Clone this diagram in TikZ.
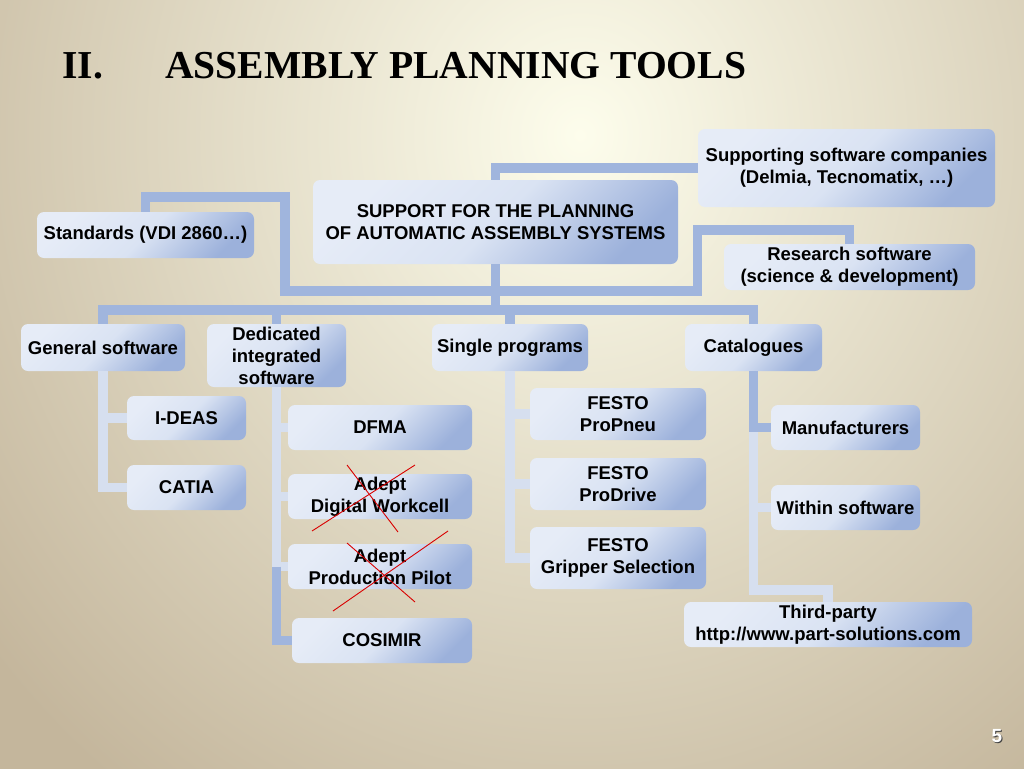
\documentclass[tikz,border=0pt]{standalone}
\usepackage{fontspec}
\setmainfont{Liberation Sans}
\newfontfamily\titlefont{Liberation Serif}
\usetikzlibrary{calc}

\definecolor{bgin}{RGB}{253,253,236}
\definecolor{bgout}{RGB}{196,182,156}
\definecolor{boxhi}{RGB}{230,236,247}
\definecolor{boxmid}{RGB}{218,227,243}
\definecolor{boxlo}{RGB}{156,177,219}
\definecolor{linkc}{RGB}{160,181,221}
\definecolor{sublinkc}{RGB}{214,223,239}

\begin{document}
\begin{tikzpicture}[x=1pt,y=-1pt,
    box/.style={rounded corners=7pt, top color=boxhi, bottom color=boxlo,
        middle color=boxmid, shading angle=45, align=center, inner sep=1pt,
        font=\fontsize{18.5}{22}\selectfont\bfseries},
    link/.style={line width=9.5pt, draw=linkc},
    sublink/.style={line width=9.5pt, draw=sublinkc},
    cross/.style={draw=red!85!black, line width=0.9pt}]
    \useasboundingbox (0,0) rectangle (1024,768);
    \fill[bgout] (-4,-4) rectangle (1028,772);
    \begin{scope}
        \clip (-4,-4) rectangle (1028,772);
        \shade[inner color=bgin, outer color=bgout] (580,135) ellipse (760 and 820);
    \end{scope}

    \node[anchor=base west, inner sep=0, font=\titlefont\fontsize{39.6}{40}\selectfont\bfseries] (sec) at (62,78) {II.};
    \node[anchor=base west, inner sep=0, font=\titlefont\fontsize{39.6}{40}\selectfont\bfseries] (title) at (165,78) {ASSEMBLY PLANNING TOOLS};

    \node[box, minimum width=365, minimum height=84] (main) at (495.5,222) {SUPPORT FOR THE PLANNING\\OF AUTOMATIC ASSEMBLY SYSTEMS};
    \node[box, minimum width=297, minimum height=78] (supp) at (846.5,168) {Supporting software companies\\(Delmia, Tecnomatix, \dots)};
    \node[box, minimum width=217, minimum height=46] (std) at (145.5,235) {Standards (VDI 2860\dots)};
    \node[box, minimum width=251, minimum height=46] (res) at (849.5,267) {Research software\\(science \& development)};

    \node[box, minimum width=164, minimum height=47] (gen) at (103,347.5) {General software};
    \node[box, minimum width=139, minimum height=63] (ded) at (276.5,355.5) {Dedicated\\integrated\\software};
    \node[box, minimum width=156, minimum height=47] (single) at (510,347.5) {Single programs};
    \node[box, minimum width=137, minimum height=47] (cat) at (753.5,347.5) {Catalogues};

    \node[box, minimum width=119, minimum height=44] (ideas) at (186.5,418) {I-DEAS};
    \node[box, minimum width=119, minimum height=45] (catia) at (186.5,487.5) {CATIA};

    \node[box, minimum width=184, minimum height=45] (dfma) at (380,427.5) {DFMA};
    \node[box, minimum width=184, minimum height=45] (adw) at (380,496.5) {Adept\\Digital Workcell};
    \node[box, minimum width=184, minimum height=45] (app) at (380,566.5) {Adept\\Production Pilot};
    \node[box, minimum width=180, minimum height=45] (cosimir) at (382,640.5) {COSIMIR};

    \node[box, minimum width=176, minimum height=52] (pneu) at (618,414) {FESTO\\ProPneu};
    \node[box, minimum width=176, minimum height=52] (drive) at (618,484) {FESTO\\ProDrive};
    \node[box, minimum width=176, minimum height=62] (gripper) at (618,558) {FESTO\\Gripper Selection};

    \node[box, minimum width=149, minimum height=45] (manu) at (845.5,427.5) {Manufacturers};
    \node[box, minimum width=149, minimum height=45] (within) at (845.5,507.5) {Within software};
    \node[box, minimum width=288, minimum height=45] (third) at (828,624.5) {Third-party\\http://www.part-solutions.com};

    \path (main.south) ++(0,27) coordinate (jn);
    \path (main.south) ++(0,46) coordinate (bus);
    \path (app.west -| ded.south) coordinate (dk);

    \draw[link] (main.north) |- (supp.west);
    \draw[link] (main.south) -- (bus);
    \draw[link] (std.north) |- ++(139.5,-15) |- (jn);
    \draw[link] (jn) -| ++(202,-61) -| (res.north);
    \foreach \c in {gen,ded,single,cat}
        \draw[link] (bus) -| (\c.north);

    \foreach \c in {ideas,catia}
        \draw[sublink] (gen.south) |- (\c.west);
    \foreach \c in {dfma,adw,app}
        \draw[sublink] (ded.south) |- (\c.west);
    \draw[link] (dk) |- (cosimir.west);
    \foreach \c in {pneu,drive,gripper}
        \draw[sublink] (single.south) |- (\c.west);
    \draw[sublink] (cat.south) -- ++(0,219) -| (third.north);
    \draw[sublink] (cat.south) |- (within.west);
    \draw[link] (cat.south) |- (manu.west);

    % struck-out entries
    \draw[cross] (347,465) -- (398,532);
    \draw[cross] (415,465) -- (312,531);
    \draw[cross] (347,543) -- (415,602);
    \draw[cross] (448,531) -- (333,611);

    \node[font=\fontsize{19}{20}\selectfont\bfseries, text=white] (page) at (997,737)
        {\rlap{\kern1pt\raisebox{-1pt}{\color{black!75}5}}5};
\end{tikzpicture}
\end{document}
